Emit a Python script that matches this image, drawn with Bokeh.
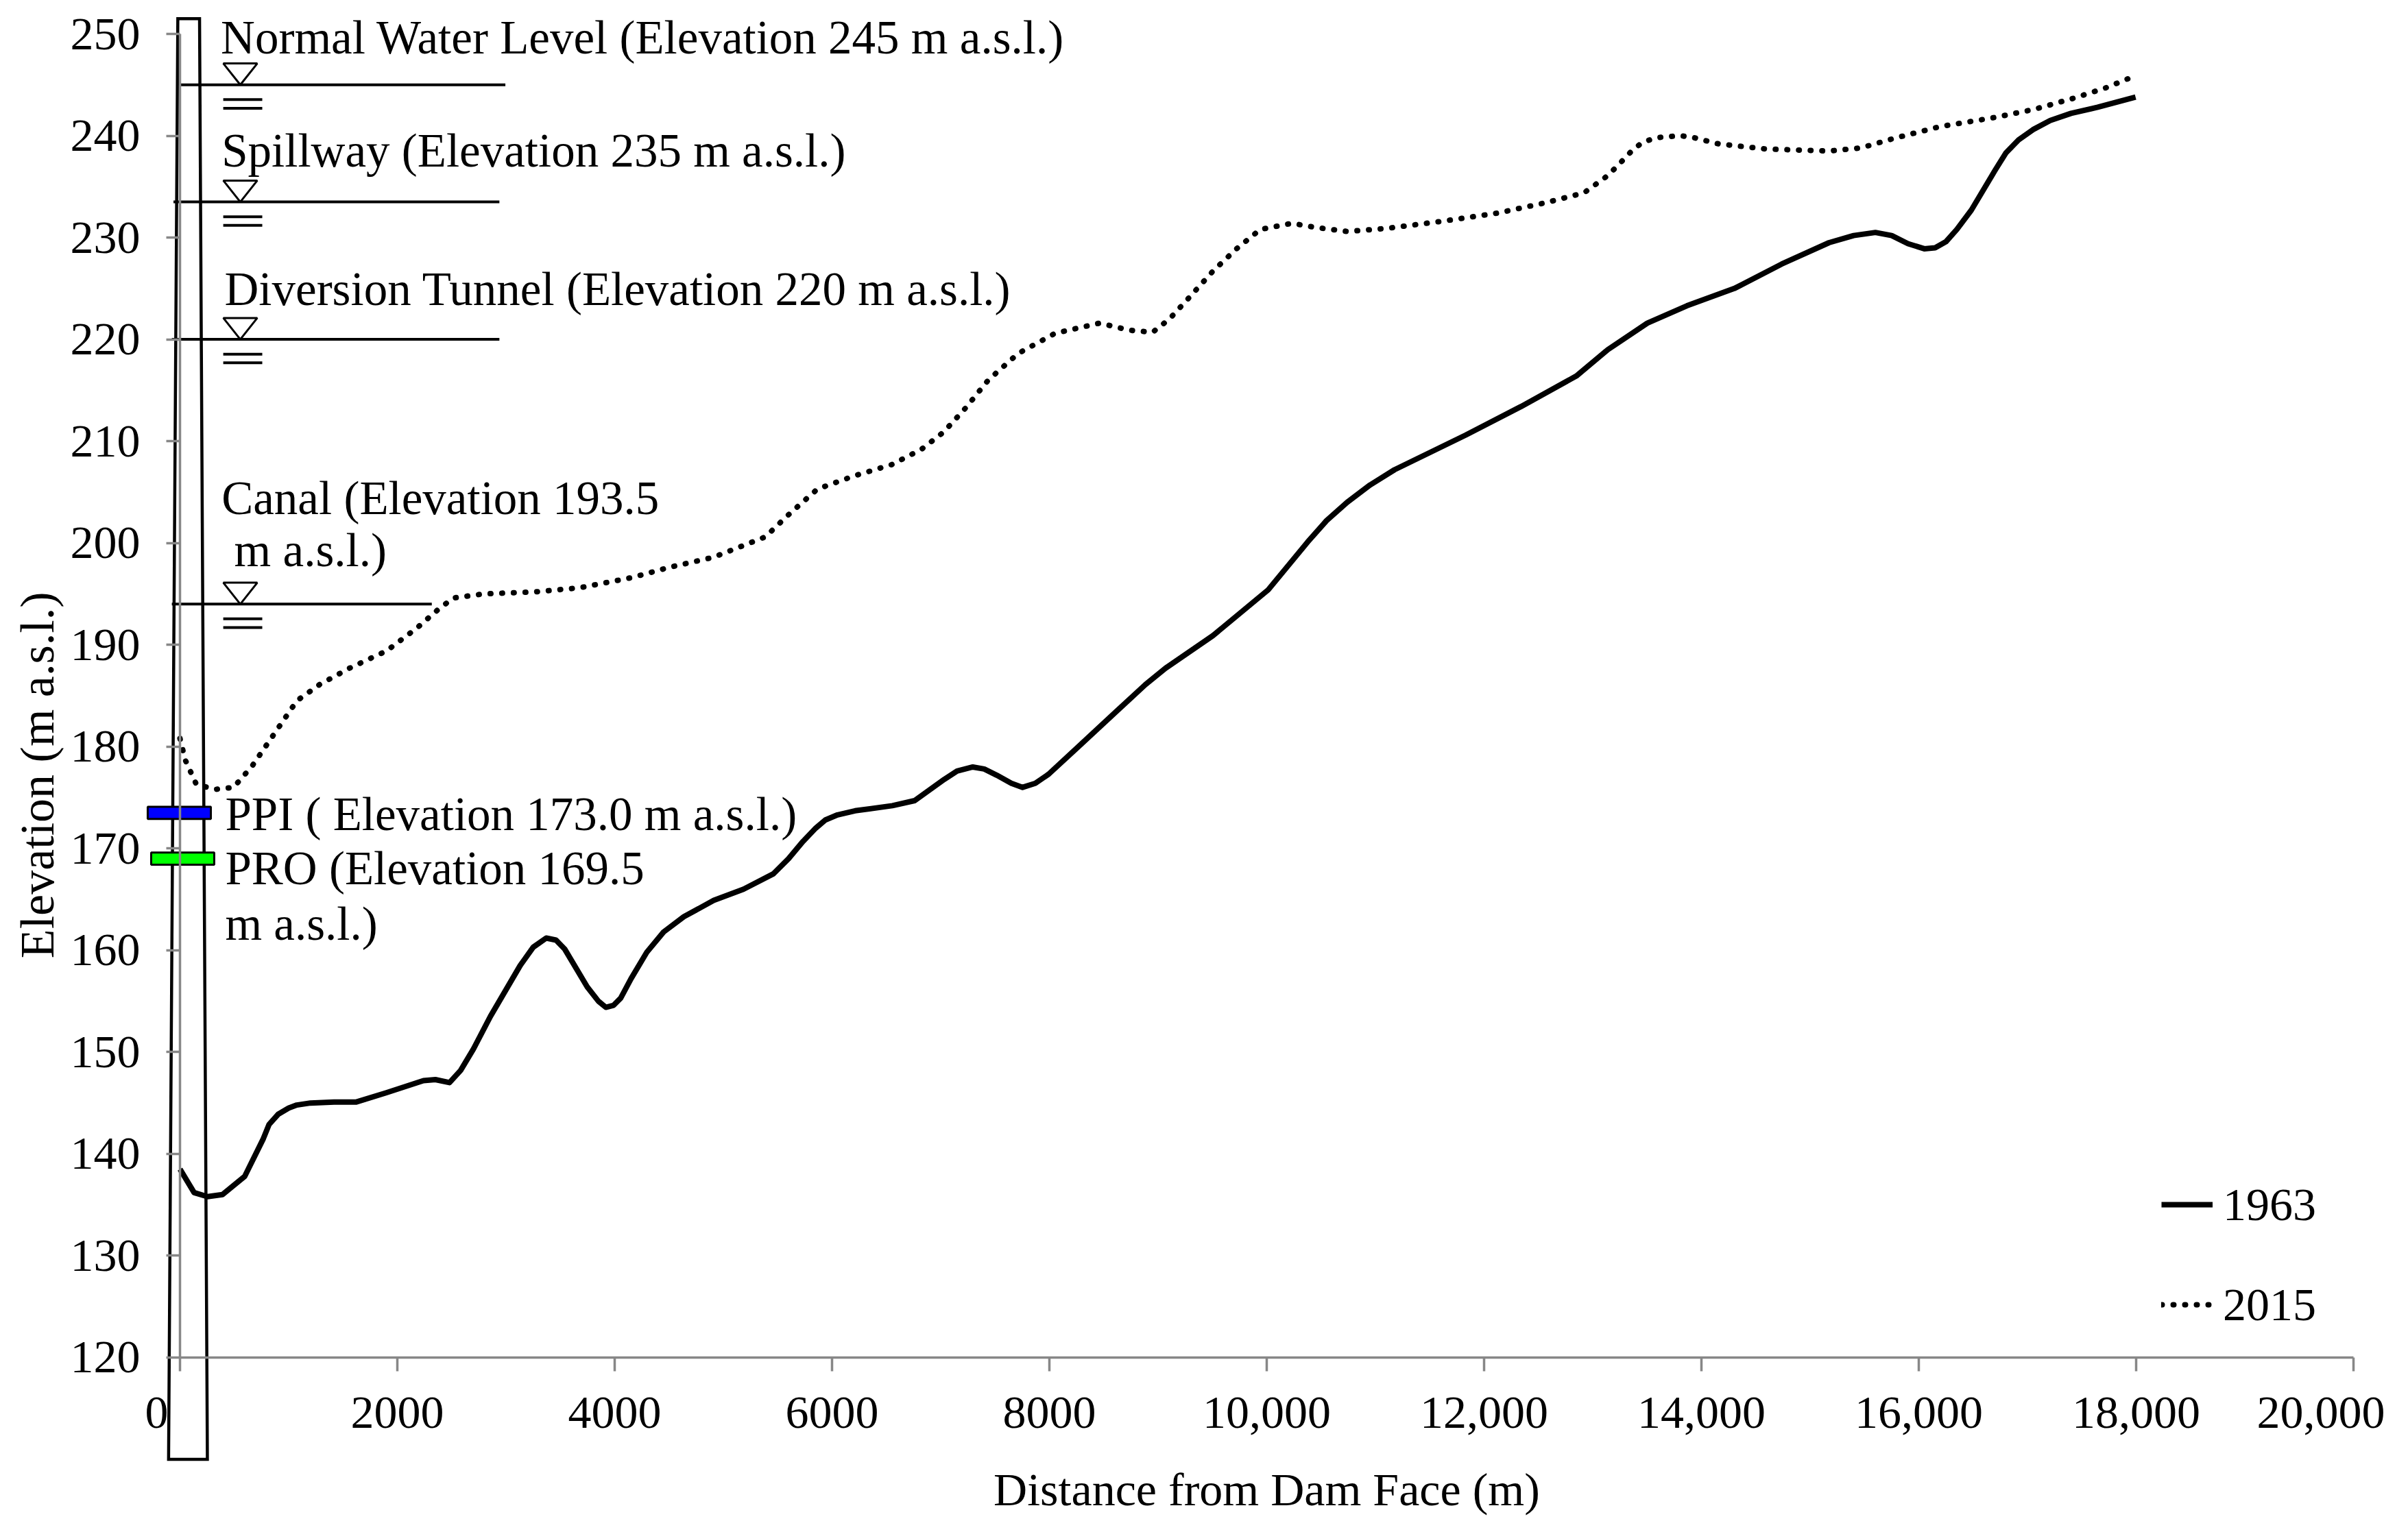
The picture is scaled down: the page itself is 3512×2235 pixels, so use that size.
import math
from bokeh.plotting import figure
from bokeh.models import Range1d, FixedTicker, Legend, LegendItem, ColumnDataSource, Label
from bokeh.core.properties import value
from bokeh.embed import file_html
from bokeh.resources import INLINE

# ---------------- data ----------------
dist_1963 = [0, 130, 253, 390, 596, 767, 820, 904, 1000, 1075, 1200, 1418, 1623, 1897, 2240,
             2350, 2480, 2582, 2700, 2856, 3130, 3250, 3370, 3460, 3541, 3747, 3850, 3918,
             3990, 4055, 4150, 4295, 4450, 4637, 4911, 5185, 5459, 5600, 5733, 5850, 5938,
             6050, 6212, 6555, 6760, 7034, 7150, 7295, 7400, 7514, 7650, 7753, 7870, 7993,
             8267, 8610, 8884, 9068, 9504, 10013, 10376, 10550, 10740, 10950, 11176, 11830,
             12339, 12848, 13139, 13502, 13866, 14302, 14738, 15174, 15400, 15600, 15750,
             15900, 16050, 16150, 16250, 16350, 16483, 16701, 16800, 16918, 17050, 17209,
             17400, 17646, 17994]
elev_1963 = [138.5, 136.2, 135.8, 136.0, 137.8, 141.5, 142.9, 143.9, 144.5, 144.8, 145.0,
             145.1, 145.1, 146.0, 147.2, 147.3, 147.0, 148.2, 150.3, 153.5, 158.5, 160.3,
             161.2, 161.0, 160.1, 156.4, 155.0, 154.4, 154.6, 155.3, 157.2, 159.8, 161.8,
             163.3, 164.9, 166.0, 167.5, 169.0, 170.7, 172.0, 172.8, 173.3, 173.7, 174.2,
             174.7, 176.8, 177.6, 178.0, 177.8, 177.2, 176.4, 176.0, 176.4, 177.3, 180.0,
             183.4, 186.1, 187.7, 190.9, 195.4, 200.1, 202.2, 204.0, 205.7, 207.2, 210.6,
             213.4, 216.4, 219.0, 221.6, 223.3, 225.0, 227.4, 229.5, 230.2, 230.5, 230.2,
             229.4, 228.9, 229.0, 229.6, 230.8, 232.7, 236.6, 238.3, 239.6, 240.6, 241.5,
             242.2, 242.8, 243.8]

dist_2015 = [0, 48, 150, 322, 493, 664, 870, 1075, 1285, 1558, 1900, 2174, 2379, 2515, 2789,
             3267, 3677, 4156, 4498, 4908, 5386, 5591, 5865, 6206, 6548, 6822, 7027, 7232,
             7437, 7710, 8052, 8462, 8735, 8950, 9104, 9285, 9504, 9722, 9940, 10230, 10448,
             10740, 11103, 11611, 12121, 12556, 12920, 13139, 13250, 13357, 13450, 13575,
             13793, 13900, 14157, 14593, 15174, 15465, 15756, 16193, 16701, 17064, 17428,
             17718, 17994]
elev_2015 = [180.8, 178.7, 176.3, 175.8, 176.0, 178.1, 181.3, 184.5, 186.1, 187.7, 189.4,
             191.6, 193.5, 194.6, 195.0, 195.2, 195.6, 196.6, 197.6, 198.6, 200.6, 202.7,
             205.3, 206.6, 207.7, 209.2, 210.9, 213.3, 216.0, 218.6, 220.6, 221.6, 220.9,
             220.7, 222.0, 224.1, 226.7, 228.9, 230.8, 231.4, 231.0, 230.6, 230.9, 231.6,
             232.4, 233.4, 234.4, 236.1, 237.3, 238.5, 239.3, 239.8, 240.0, 239.9, 239.2,
             238.7, 238.5, 238.8, 239.7, 240.9, 241.8, 242.6, 243.7, 244.7, 245.9]

series_names = ["1963", "2015"]

x_ticks = [0, 2000, 4000, 6000, 8000, 10000, 12000, 14000, 16000, 18000, 20000]
x_tick_labels = ["0", "2000", "4000", "6000", "8000", "10,000", "12,000", "14,000",
                 "16,000", "18,000", "20,000"]
y_ticks = [120, 130, 140, 150, 160, 170, 180, 190, 200, 210, 220, 230, 240, 250]

# water level markers (elevation at which each symbol is drawn)
level_elev = [245.0, 233.5, 220.0, 194.0]
# intakes (elevation at which each bar is drawn)
intake_elev = [173.5, 169.0]
intake_colors = ["#0000ff", "#00ff00"]

annot_text = ["Normal Water Level (Elevation 245 m a.s.l.)",
              "Spillway (Elevation 235 m a.s.l.)",
              "Diversion Tunnel (Elevation 220 m a.s.l.)",
              "Canal (Elevation 193.5",
              "m a.s.l.)",
              "PPI ( Elevation 173.0 m a.s.l.)",
              "PRO (Elevation 169.5",
              "m a.s.l.)"]

x_title = "Distance from Dam Face (m)"
y_title = "Elevation (m a.s.l.)"

# ---------------- layout / style ----------------
annot_x = [376, 383, 410, 383, 499, 416, 416, 416]
annot_y = [249.65, 238.55, 224.95, 204.4, 199.25, 173.35, 168.05, 162.55]
level_line_x0 = [0, -60, -75, -75]
level_line_x1 = [2994, 2939, 2939, 2317]
tri_cx, tri_hw, tri_h = 555, 156, 2.1
eq_x0, eq_x1, eq_off1, eq_off2 = 398, 757, 1.45, 2.3
dam_xs = [-20, 180, 252, -105]
dam_ys = [251.5, 251.5, 110.0, 110.0]
bar_left, bar_right, bar_half = [-297, -265], [284, 315], 0.6

FONT = "Liberation Serif"
FS = "68px"
AXIS_GRAY = "#878787"
NB = "\u00a0"

p = figure(frame_width=3496, frame_height=2235,
           min_border_left=16, min_border_right=0, min_border_top=0, min_border_bottom=0,
           x_range=Range1d(-1552.1, 20504.0), y_range=Range1d(102.83, 253.30),
           output_backend="svg", toolbar_location=None)
p.xgrid.visible = False
p.ygrid.visible = False
p.outline_line_color = None
p.background_fill_color = "white"
p.border_fill_color = "white"

xa = p.xaxis[0]
ya = p.yaxis[0]
xa.fixed_location = 120
ya.fixed_location = 0
xa.bounds = (0, 20000)
ya.bounds = (120, 250)
xa.ticker = FixedTicker(ticks=x_ticks)
ya.ticker = FixedTicker(ticks=y_ticks)
overrides = {t: s for t, s in zip(x_ticks, x_tick_labels)}
# first and last labels sit slightly inward, as in the original
overrides[0] = x_tick_labels[0] + NB * 4
overrides[20000] = x_tick_labels[-1] + NB * 2
xa.major_label_overrides = overrides
for ax in (xa, ya):
    ax.axis_line_color = AXIS_GRAY
    ax.axis_line_width = 3.5
    ax.major_tick_line_color = AXIS_GRAY
    ax.major_tick_line_width = 3.5
    ax.major_tick_out = 20
    ax.major_tick_in = 0
    ax.minor_tick_line_color = None
    ax.major_label_text_font = FONT
    ax.major_label_text_font_size = FS
    ax.major_label_text_color = "black"
    ax.axis_label_text_font = FONT
    ax.axis_label_text_font_size = FS
    ax.axis_label_text_font_style = "normal"
    ax.axis_label_text_color = "black"
xa.major_label_standoff = 22
ya.major_label_standoff = 38
xa.axis_label = x_title
xa.axis_label_standoff = 33

# y-axis title (placed as a label so it can sit where the original has it)
p.add_layout(Label(x=-1312, y=177.2, text=y_title, angle=math.pi / 2,
                   text_font=FONT, text_font_size="70px", text_color="black",
                   text_align="center", text_baseline="middle"))

# dam outline
p.patch(dam_xs, dam_ys, fill_alpha=0, line_color="black", line_width=4.5, line_join="miter")

# water-level lines, triangles and "=" marks
p.segment(x0=level_line_x0, y0=level_elev, x1=level_line_x1, y1=level_elev,
          line_color="black", line_width=4)
tri_xs = [[tri_cx - tri_hw, tri_cx + tri_hw, tri_cx] for _ in level_elev]
tri_ys = [[L + tri_h, L + tri_h, L] for L in level_elev]
p.patches(tri_xs, tri_ys, fill_color="white", line_color="black", line_width=3)
eq_y = [L - eq_off1 for L in level_elev] + [L - eq_off2 for L in level_elev]
p.segment(x0=[eq_x0] * len(eq_y), y0=eq_y, x1=[eq_x1] * len(eq_y), y1=eq_y,
          line_color="black", line_width=4)

# profiles
r63 = p.line(dist_1963, elev_1963, line_color="black", line_width=8, line_join="round")
r15 = p.line(dist_2015, elev_2015, line_color="black", line_width=8, line_dash="1 16",
             line_cap="round")

# intake bars
p.quad(left=bar_left, right=bar_right,
       bottom=[e - bar_half for e in intake_elev], top=[e + bar_half for e in intake_elev],
       fill_color=intake_colors, line_color="black", line_width=3)

# annotation texts
src = ColumnDataSource(dict(x=annot_x, y=annot_y, t=annot_text))
p.text(x="x", y="y", text="t", source=src, text_font=value(FONT), text_font_size="69px",
       text_align="left", text_baseline="alphabetic", text_color="black")

legend = Legend(items=[LegendItem(label=series_names[0], renderers=[r63]),
                       LegendItem(label=series_names[1], renderers=[r15])],
                location=(3136, 292), orientation="vertical",
                glyph_width=75, glyph_height=80, label_height=80, label_standoff=15,
                spacing=66, padding=0, margin=0,
                border_line_color=None, background_fill_alpha=0,
                label_text_font=FONT, label_text_font_size=FS, label_text_color="black")
p.add_layout(legend)

open("out.html", "w").write(file_html(p, INLINE))
